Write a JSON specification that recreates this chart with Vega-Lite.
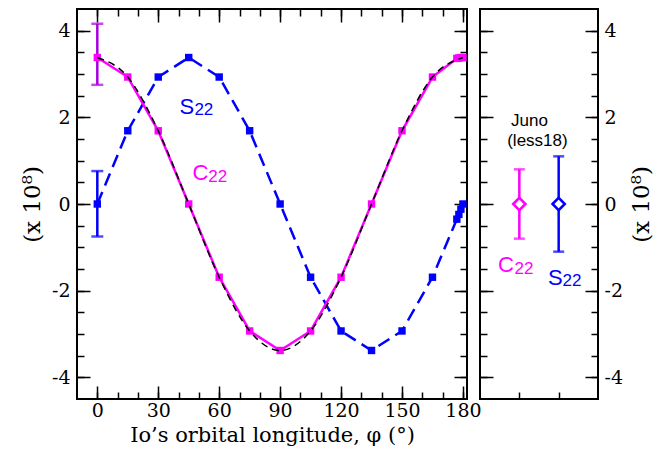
{
  "$schema": "https://vega.github.io/schema/vega-lite/v6.json",
  "autosize": {"type": "pad"},
  "padding": {"left": 20, "top": 7, "right": 9, "bottom": 6},
  "bounds": "flush",
  "spacing": 13,
  "config": {
    "view": {"stroke": "black", "strokeWidth": 2},
    "axis": {
      "domain": false, "grid": false, "tickColor": "black", "tickWidth": 1.5,
      "labelFont": "DejaVu Serif", "labelFontSize": 19, "labelColor": "black",
      "titleFont": "DejaVu Serif", "titleFontSize": 21, "titleFontWeight": "normal", "titleColor": "black",
      "labelOverlap": false, "labelFlush": false, "labelExpr": "datum.value + ''"
    }
  },
  "datasets": {
    "series": [
      {"phi": 0, "C22": 3.38, "S22": 0},
      {"phi": 15, "C22": 2.93, "S22": 1.69},
      {"phi": 30, "C22": 1.69, "S22": 2.93},
      {"phi": 45, "C22": 0, "S22": 3.38},
      {"phi": 60, "C22": -1.69, "S22": 2.93},
      {"phi": 75, "C22": -2.93, "S22": 1.69},
      {"phi": 90, "C22": -3.38, "S22": 0},
      {"phi": 105, "C22": -2.93, "S22": -1.69},
      {"phi": 120, "C22": -1.69, "S22": -2.93},
      {"phi": 135, "C22": 0, "S22": -3.38},
      {"phi": 150, "C22": 1.69, "S22": -2.93},
      {"phi": 165, "C22": 2.93, "S22": -1.69},
      {"phi": 177, "C22": 3.36, "S22": -0.35},
      {"phi": 178, "C22": 3.37, "S22": -0.24},
      {"phi": 179, "C22": 3.38, "S22": -0.12},
      {"phi": 180, "C22": 3.38, "S22": 0}
    ],
    "model": [
      {"phi": 0, "v": 3.38}, {"phi": 15, "v": 2.93}, {"phi": 30, "v": 1.69},
      {"phi": 45, "v": 0}, {"phi": 60, "v": -1.69}, {"phi": 75, "v": -2.93},
      {"phi": 90, "v": -3.38}, {"phi": 105, "v": -2.93}, {"phi": 120, "v": -1.69},
      {"phi": 135, "v": 0}, {"phi": 150, "v": 1.69}, {"phi": 165, "v": 2.93},
      {"phi": 180, "v": 3.38}
    ],
    "errLeft": [
      {"series": "C22 error", "phi": 0, "lo": 2.75, "hi": 4.16},
      {"series": "S22", "phi": 0, "lo": -0.75, "hi": 0.76}
    ],
    "juno": [
      {"series": "C22", "pos": 1, "val": 0, "lo": -0.8, "hi": 0.8},
      {"series": "S22", "pos": 2, "val": 0, "lo": -1.1, "hi": 1.1}
    ],
    "labL": [
      {"series": "S22", "t": "S", "phi": 40.4, "v": 2.08},
      {"series": "C22", "t": "C", "phi": 46.8, "v": 0.55}
    ],
    "subL": [
      {"series": "S22", "t": "22", "phi": 47.8, "v": 2.05},
      {"series": "C22", "t": "22", "phi": 54.6, "v": 0.51}
    ],
    "labR": [
      {"series": "C22", "t": "C", "pos": 0.46, "v": -1.56},
      {"series": "S22", "t": "S", "pos": 1.73, "v": -1.87}
    ],
    "subR": [
      {"series": "C22", "t": "22", "pos": 0.88, "v": -1.61},
      {"series": "S22", "t": "22", "pos": 2.1, "v": -1.89}
    ],
    "junoTxt": [
      {"t": "Juno", "pos": 1.26, "v": 1.8},
      {"t": "(less18)", "pos": 1.46, "v": 1.33}
    ]
  },
  "hconcat": [
    {
      "width": 390,
      "height": 390,
      "resolve": {"axis": {"x": "independent", "y": "independent"}},
      "layer": [
        {
          "mark": {"type": "rule", "strokeDash": [2, 5], "strokeWidth": 2, "color": "black"},
          "encoding": {
            "y": {"datum": 0, "type": "quantitative", "scale": {"domain": [-4.5, 4.5], "nice": false, "zero": false},
              "axis": {"orient": "left", "values": [-4, -2, 0, 2, 4], "tickSize": -13, "labelPadding": 20, "title": "(x 10⁸)", "titlePadding": 7, "titleFontSize": 23}}
          }
        },
        {
          "data": {"name": "errLeft"},
          "mark": {"type": "rule", "strokeWidth": 2.5},
          "encoding": {
            "x": {"field": "phi", "type": "quantitative", "scale": {"domain": [-10, 182], "nice": false, "zero": false}, "axis": null},
            "y": {"field": "lo", "type": "quantitative", "scale": {"domain": [-4.5, 4.5], "nice": false, "zero": false}, "axis": null},
            "y2": {"field": "hi"},
            "color": {"field": "series", "type": "nominal", "scale": {"domain": ["C22", "S22", "C22 error"], "range": ["#ff00ff", "#0000ff", "#aa00dd"]}, "legend": null}
          }
        },
        {
          "data": {"name": "errLeft"},
          "mark": {"type": "tick", "orient": "horizontal", "size": 12, "thickness": 2.5},
          "encoding": {
            "x": {"field": "phi", "type": "quantitative", "scale": {"domain": [-10, 182], "nice": false, "zero": false}, "axis": null},
            "y": {"field": "lo", "type": "quantitative", "scale": {"domain": [-4.5, 4.5], "nice": false, "zero": false}, "axis": null},
            "color": {"field": "series", "type": "nominal", "scale": {"domain": ["C22", "S22", "C22 error"], "range": ["#ff00ff", "#0000ff", "#aa00dd"]}, "legend": null}
          }
        },
        {
          "data": {"name": "errLeft"},
          "mark": {"type": "tick", "orient": "horizontal", "size": 12, "thickness": 2.5},
          "encoding": {
            "x": {"field": "phi", "type": "quantitative", "scale": {"domain": [-10, 182], "nice": false, "zero": false}, "axis": null},
            "y": {"field": "hi", "type": "quantitative", "scale": {"domain": [-4.5, 4.5], "nice": false, "zero": false}, "axis": null},
            "color": {"field": "series", "type": "nominal", "scale": {"domain": ["C22", "S22", "C22 error"], "range": ["#ff00ff", "#0000ff", "#aa00dd"]}, "legend": null}
          }
        },
        {
          "data": {"name": "series"},
          "mark": {"type": "line", "color": "#0000ff", "strokeWidth": 2.5, "strokeDash": [13, 7]},
          "encoding": {
            "x": {"field": "phi", "type": "quantitative", "scale": {"domain": [-10, 182], "nice": false, "zero": false},
              "axis": {"orient": "bottom", "values": [0, 30, 60, 90, 120, 150, 180], "tickSize": -13, "labelPadding": 15, "title": "Io’s orbital longitude, φ (°)", "titlePadding": 4}},
            "y": {"field": "S22", "type": "quantitative", "scale": {"domain": [-4.5, 4.5], "nice": false, "zero": false},
              "axis": {"orient": "right", "values": [-4, -2, 0, 2, 4], "tickSize": -13, "labels": false, "title": null}}
          }
        },
        {
          "data": {"name": "series"},
          "mark": {"type": "square", "color": "#0000ff", "size": 55, "opacity": 1},
          "encoding": {
            "x": {"field": "phi", "type": "quantitative", "scale": {"domain": [-10, 182], "nice": false, "zero": false},
              "axis": {"orient": "bottom", "values": [0, 10, 20, 30, 40, 50, 60, 70, 80, 90, 100, 110, 120, 130, 140, 150, 160, 170, 180], "tickSize": -7, "labels": false, "title": null}},
            "y": {"field": "S22", "type": "quantitative", "scale": {"domain": [-4.5, 4.5], "nice": false, "zero": false},
              "axis": {"orient": "right", "values": [-4, -3.5, -3, -2.5, -2, -1.5, -1, -0.5, 0, 0.5, 1, 1.5, 2, 2.5, 3, 3.5, 4], "tickSize": -7, "labels": false, "title": null}}
          }
        },
        {
          "data": {"name": "series"},
          "mark": {"type": "line", "color": "#ff00ff", "strokeWidth": 2.5},
          "encoding": {
            "x": {"field": "phi", "type": "quantitative", "scale": {"domain": [-10, 182], "nice": false, "zero": false},
              "axis": {"orient": "top", "values": [0, 30, 60, 90, 120, 150, 180], "tickSize": -13, "labels": false, "title": null}},
            "y": {"field": "C22", "type": "quantitative", "scale": {"domain": [-4.5, 4.5], "nice": false, "zero": false},
              "axis": {"orient": "left", "values": [-4, -3.5, -3, -2.5, -2, -1.5, -1, -0.5, 0, 0.5, 1, 1.5, 2, 2.5, 3, 3.5, 4], "tickSize": -7, "labels": false, "title": null}}
          }
        },
        {
          "data": {"name": "series"},
          "mark": {"type": "square", "color": "#ff00ff", "size": 55, "opacity": 1},
          "encoding": {
            "x": {"field": "phi", "type": "quantitative", "scale": {"domain": [-10, 182], "nice": false, "zero": false},
              "axis": {"orient": "top", "values": [0, 10, 20, 30, 40, 50, 60, 70, 80, 90, 100, 110, 120, 130, 140, 150, 160, 170, 180], "tickSize": -7, "labels": false, "title": null}},
            "y": {"field": "C22", "type": "quantitative", "scale": {"domain": [-4.5, 4.5], "nice": false, "zero": false}, "axis": null}
          }
        },
        {
          "data": {"name": "model"},
          "mark": {"type": "line", "color": "black", "strokeWidth": 1.5, "strokeDash": [7, 5], "interpolate": "monotone"},
          "encoding": {
            "x": {"field": "phi", "type": "quantitative", "scale": {"domain": [-10, 182], "nice": false, "zero": false}, "axis": null},
            "y": {"field": "v", "type": "quantitative", "scale": {"domain": [-4.5, 4.5], "nice": false, "zero": false}, "axis": null}
          }
        },
        {
          "data": {"name": "labL"},
          "mark": {"type": "text", "font": "Liberation Sans", "fontSize": 22, "align": "left", "baseline": "alphabetic"},
          "encoding": {
            "x": {"field": "phi", "type": "quantitative", "scale": {"domain": [-10, 182], "nice": false, "zero": false}, "axis": null},
            "y": {"field": "v", "type": "quantitative", "scale": {"domain": [-4.5, 4.5], "nice": false, "zero": false}, "axis": null},
            "text": {"field": "t"},
            "color": {"field": "series", "type": "nominal", "scale": {"domain": ["C22", "S22", "C22 error"], "range": ["#ff00ff", "#0000ff", "#aa00dd"]}, "legend": null}
          }
        },
        {
          "data": {"name": "subL"},
          "mark": {"type": "text", "font": "Liberation Sans", "fontSize": 17, "align": "left", "baseline": "alphabetic"},
          "encoding": {
            "x": {"field": "phi", "type": "quantitative", "scale": {"domain": [-10, 182], "nice": false, "zero": false}, "axis": null},
            "y": {"field": "v", "type": "quantitative", "scale": {"domain": [-4.5, 4.5], "nice": false, "zero": false}, "axis": null},
            "text": {"field": "t"},
            "color": {"field": "series", "type": "nominal", "scale": {"domain": ["C22", "S22", "C22 error"], "range": ["#ff00ff", "#0000ff", "#aa00dd"]}, "legend": null}
          }
        }
      ]
    },
    {
      "width": 118,
      "height": 390,
      "resolve": {"axis": {"x": "independent", "y": "independent"}},
      "layer": [
        {
          "mark": {"type": "rule", "strokeDash": [2, 5], "strokeWidth": 2, "color": "black"},
          "encoding": {
            "y": {"datum": 0, "type": "quantitative", "scale": {"domain": [-4.5, 4.5], "nice": false, "zero": false},
              "axis": {"orient": "right", "values": [-4, -2, 0, 2, 4], "tickSize": -13, "labelPadding": 19, "title": "(x 10⁸)", "titlePadding": 8,
                "titleAngle": 270, "titleBaseline": "top", "titleFontSize": 23}}
          }
        },
        {
          "data": {"name": "juno"},
          "mark": {"type": "rule", "strokeWidth": 2.5},
          "encoding": {
            "x": {"field": "pos", "type": "quantitative", "scale": {"domain": [0, 3], "nice": false, "zero": false},
              "axis": {"orient": "bottom", "values": [1, 2], "tickSize": -7, "labels": false, "title": null}},
            "y": {"field": "lo", "type": "quantitative", "scale": {"domain": [-4.5, 4.5], "nice": false, "zero": false},
              "axis": {"orient": "left", "values": [-4, -2, 0, 2, 4], "tickSize": -13, "labels": false, "title": null}},
            "y2": {"field": "hi"},
            "color": {"field": "series", "type": "nominal", "scale": {"domain": ["C22", "S22"], "range": ["#ff00ff", "#0000ff"]}, "legend": null}
          }
        },
        {
          "data": {"name": "juno"},
          "mark": {"type": "tick", "orient": "horizontal", "size": 11, "thickness": 2.5},
          "encoding": {
            "x": {"field": "pos", "type": "quantitative", "scale": {"domain": [0, 3], "nice": false, "zero": false}, "axis": null},
            "y": {"field": "lo", "type": "quantitative", "scale": {"domain": [-4.5, 4.5], "nice": false, "zero": false},
              "axis": {"orient": "right", "values": [-4, -3.5, -3, -2.5, -2, -1.5, -1, -0.5, 0, 0.5, 1, 1.5, 2, 2.5, 3, 3.5, 4], "tickSize": -7, "labels": false, "title": null}},
            "color": {"field": "series", "type": "nominal", "scale": {"domain": ["C22", "S22"], "range": ["#ff00ff", "#0000ff"]}, "legend": null}
          }
        },
        {
          "data": {"name": "juno"},
          "mark": {"type": "tick", "orient": "horizontal", "size": 11, "thickness": 2.5},
          "encoding": {
            "x": {"field": "pos", "type": "quantitative", "scale": {"domain": [0, 3], "nice": false, "zero": false}, "axis": null},
            "y": {"field": "hi", "type": "quantitative", "scale": {"domain": [-4.5, 4.5], "nice": false, "zero": false},
              "axis": {"orient": "left", "values": [-4, -3.5, -3, -2.5, -2, -1.5, -1, -0.5, 0, 0.5, 1, 1.5, 2, 2.5, 3, 3.5, 4], "tickSize": -7, "labels": false, "title": null}},
            "color": {"field": "series", "type": "nominal", "scale": {"domain": ["C22", "S22"], "range": ["#ff00ff", "#0000ff"]}, "legend": null}
          }
        },
        {
          "data": {"name": "juno"},
          "mark": {"type": "point", "shape": "diamond", "size": 150, "filled": false, "fill": "white", "fillOpacity": 1, "strokeWidth": 2.5, "opacity": 1},
          "encoding": {
            "x": {"field": "pos", "type": "quantitative", "scale": {"domain": [0, 3], "nice": false, "zero": false}, "axis": null},
            "y": {"field": "val", "type": "quantitative", "scale": {"domain": [-4.5, 4.5], "nice": false, "zero": false}, "axis": null},
            "color": {"field": "series", "type": "nominal", "scale": {"domain": ["C22", "S22"], "range": ["#ff00ff", "#0000ff"]}, "legend": null}
          }
        },
        {
          "data": {"name": "junoTxt"},
          "mark": {"type": "text", "font": "Liberation Sans", "fontSize": 17, "align": "center", "baseline": "alphabetic", "color": "black"},
          "encoding": {
            "x": {"field": "pos", "type": "quantitative", "scale": {"domain": [0, 3], "nice": false, "zero": false}, "axis": null},
            "y": {"field": "v", "type": "quantitative", "scale": {"domain": [-4.5, 4.5], "nice": false, "zero": false}, "axis": null},
            "text": {"field": "t"}
          }
        },
        {
          "data": {"name": "labR"},
          "mark": {"type": "text", "font": "Liberation Sans", "fontSize": 22, "align": "left", "baseline": "alphabetic"},
          "encoding": {
            "x": {"field": "pos", "type": "quantitative", "scale": {"domain": [0, 3], "nice": false, "zero": false}, "axis": null},
            "y": {"field": "v", "type": "quantitative", "scale": {"domain": [-4.5, 4.5], "nice": false, "zero": false}, "axis": null},
            "text": {"field": "t"},
            "color": {"field": "series", "type": "nominal", "scale": {"domain": ["C22", "S22"], "range": ["#ff00ff", "#0000ff"]}, "legend": null}
          }
        },
        {
          "data": {"name": "subR"},
          "mark": {"type": "text", "font": "Liberation Sans", "fontSize": 17, "align": "left", "baseline": "alphabetic"},
          "encoding": {
            "x": {"field": "pos", "type": "quantitative", "scale": {"domain": [0, 3], "nice": false, "zero": false}, "axis": null},
            "y": {"field": "v", "type": "quantitative", "scale": {"domain": [-4.5, 4.5], "nice": false, "zero": false}, "axis": null},
            "text": {"field": "t"},
            "color": {"field": "series", "type": "nominal", "scale": {"domain": ["C22", "S22"], "range": ["#ff00ff", "#0000ff"]}, "legend": null}
          }
        }
      ]
    }
  ]
}
